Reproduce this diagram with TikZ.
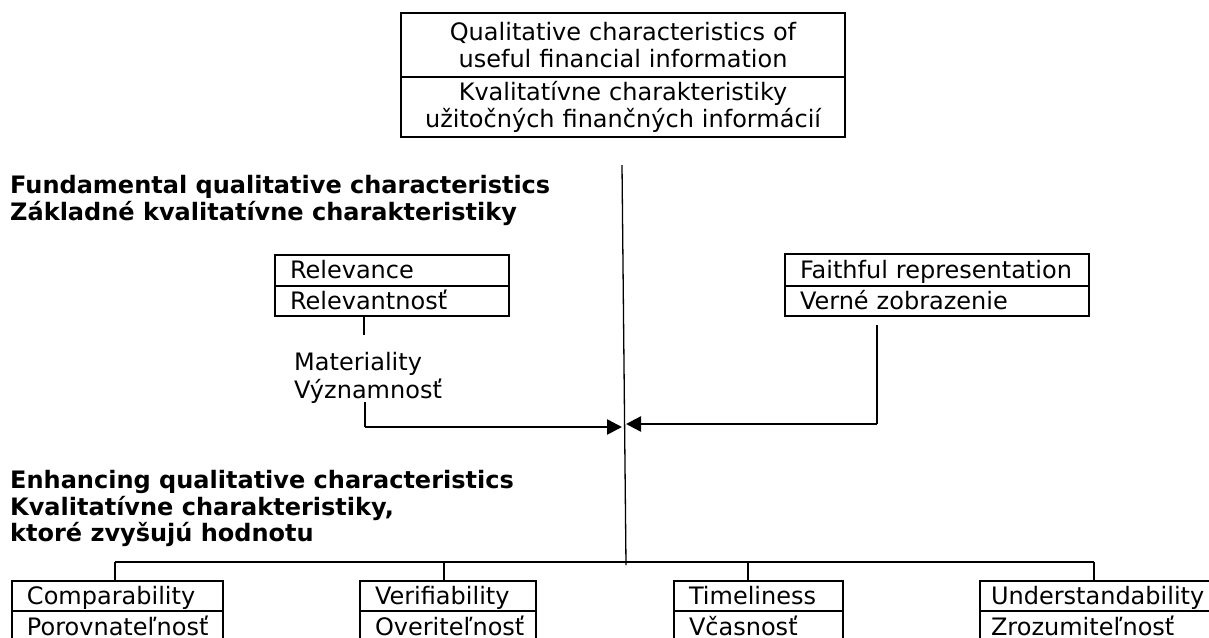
\documentclass[tikz,border=0pt]{standalone}
\usepackage{fontspec}
\setmainfont{DejaVu Sans}
\usetikzlibrary{arrows.meta}
\tikzset{
  txt/.style={font=\fontsize{24}{27}\selectfont, inner sep=0pt},
  head/.style={font=\bfseries\fontsize{24}{27}\selectfont, inner sep=0pt, anchor=base west},
  cell/.style={draw, line width=2pt, anchor=north west, font=\fontsize{24}{27}\selectfont,
    inner xsep=15pt, inner ysep=0pt, align=left, text height=20pt, text depth=4pt},
  lcell/.style={cell, text depth=0pt, minimum height=29pt},
  ccell/.style={draw, line width=2pt, anchor=north west, font=\fontsize{24}{27}\selectfont,
    inner xsep=0pt, inner ysep=0pt, align=center},
  conn/.style={line width=1.3pt},
  arr/.style={line width=2.5pt, -{Triangle[length=15pt,width=15pt]}},
}
\begin{document}
\begin{tikzpicture}[x=1pt,y=-1pt]
\useasboundingbox (0,0) rectangle (1209,637);
\clip (0,0) rectangle (1209,637);
% top box
\node[ccell, minimum width=444pt, text width=444pt, minimum height=64pt] (q1) at (400,12)
  {Qualitative characteristics of\\useful financial information};
\node[ccell, minimum width=444pt, text width=444pt, minimum height=60pt] (q2) at (400,76)
  {Kvalitatívne charakteristiky\\užitočných finančných informácií};
% headings
\node[head] (h1) at (10,193) {Fundamental qualitative characteristics};
\node[head] (h2) at (10,220) {Základné kvalitatívne charakteristiky};
\node[head] (h3) at (10,488) {Enhancing qualitative characteristics};
\node[head] (h4) at (10,515) {Kvalitatívne charakteristiky,};
\node[head] (h5) at (10,541) {ktoré zvyšujú hodnotu};
% relevance
\node[cell, minimum width=234pt, text width=204pt, minimum height=31pt] (r1) at (274,254) {Relevance};
\node[cell, minimum width=234pt, text width=204pt, minimum height=30pt] (r2) at (274,285) {Relevantnosť};
\node[txt, anchor=base west] (m1) at (294,370) {Materiality};
\node[txt, anchor=base west] (m2) at (294,398) {Významnosť};
% faithful
\node[cell, minimum width=304pt, text width=274pt, minimum height=32pt] (f1) at (784,253) {Faithful representation};
\node[cell, minimum width=304pt, text width=274pt, minimum height=30pt] (f2) at (784,285) {Verné zobrazenie};
% bottom boxes
\node[cell, minimum width=211pt, text width=181pt, minimum height=30pt] (c1) at (11,580) {Comparability};
\node[lcell, minimum width=211pt, text width=181pt] (c2) at (11,610) {Porovnateľnosť};
\node[cell, minimum width=176pt, text width=146pt, minimum height=30pt] (v1) at (359,580) {Verifiability};
\node[lcell, minimum width=176pt, text width=146pt] (v2) at (359,610) {Overiteľnosť};
\node[cell, minimum width=169pt, text width=139pt, minimum height=30pt] (t1) at (673,580) {Timeliness};
\node[lcell, minimum width=169pt, text width=139pt] (t2) at (673,610) {Včasnosť};
\node[cell, minimum width=232pt, text width=210pt, minimum height=30pt, inner xsep=11pt] (u1) at (979,580) {Understandability};
\node[lcell, minimum width=232pt, text width=210pt, inner xsep=11pt] (u2) at (979,610) {Zrozumiteľnosť};
% coordinates
\coordinate (ctop) at (622,165);
\coordinate (cbot) at (626,565);
\coordinate (rtick) at (364,335);
\coordinate (mtop) at (365,402);
\coordinate (mcorner) at (365,427);
\coordinate (ltip) at (622,427);
\coordinate (ftop) at (877,325);
\coordinate (fcorner) at (877,424);
\coordinate (rtip) at (626,424);
\coordinate (hl) at (115,562);
\coordinate (hr) at (1094,562);
\coordinate (vt) at (444,562);
\coordinate (tt) at (748,562);
% connectors
\draw[conn] (ctop) -- (cbot);
\draw[conn] (r2.south -| rtick) -- (rtick);
\draw[conn] (mtop) -- (mcorner);
\draw[arr] (mcorner) -- (ltip);
\draw[conn] (ftop) -- (fcorner);
\draw[arr] (fcorner) -- (rtip);
\draw[conn] (hl) -- (hr);
\draw[conn] (hl) -- (c1.north -| hl);
\draw[conn] (vt) -- (v1.north -| vt);
\draw[conn] (tt) -- (t1.north -| tt);
\draw[conn] (hr) -- (u1.north -| hr);
\end{tikzpicture}
\end{document}
